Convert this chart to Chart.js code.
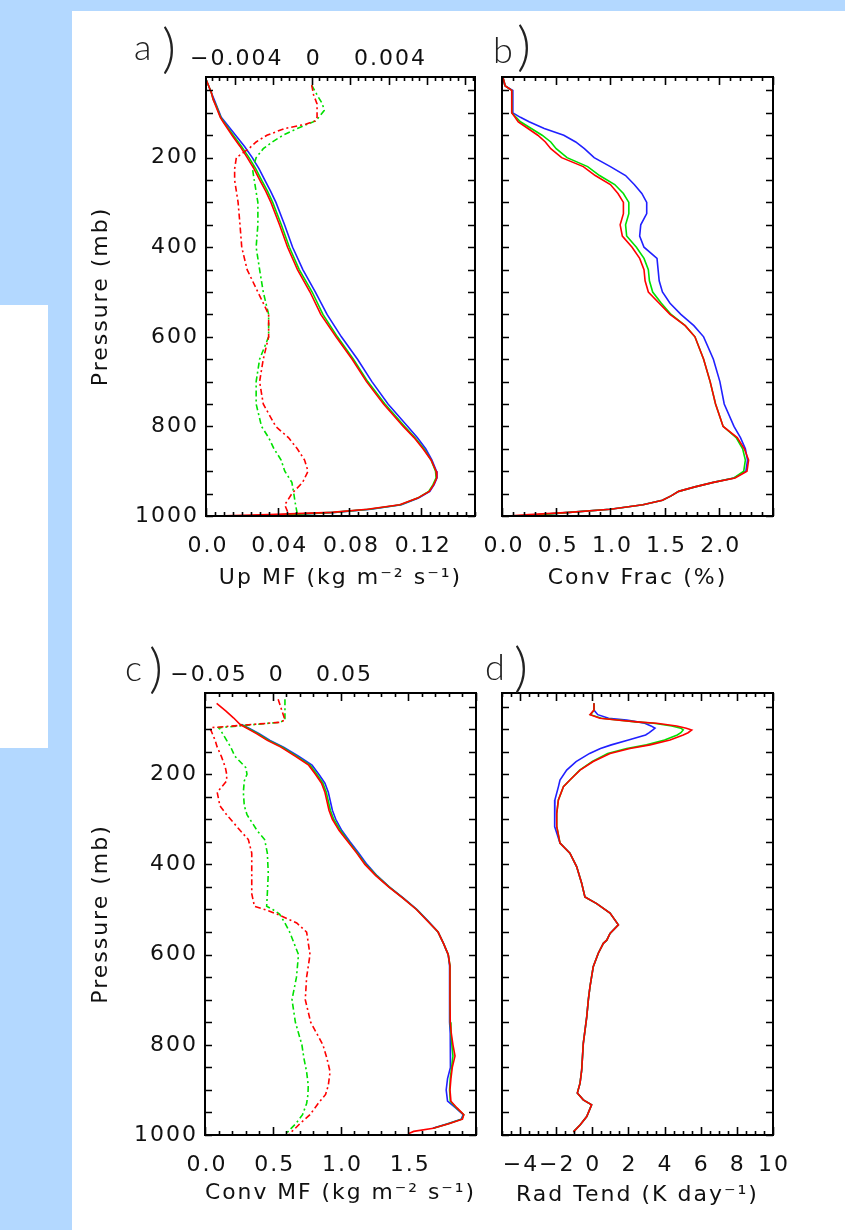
<!DOCTYPE html>
<html><head><meta charset="utf-8">
<script src="https://cdn.jsdelivr.net/npm/chart.js@4.4.1/dist/chart.umd.min.js"></script>
<style>
html,body{margin:0;padding:0;}
body{width:845px;height:1230px;background:#b3d8ff;position:relative;overflow:hidden;}
#white{position:absolute;left:72px;top:11px;width:773px;height:1219px;background:#fff;}
#side{position:absolute;left:0;top:305px;width:48px;height:443px;background:#fff;}
canvas{position:absolute;}
</style></head>
<body>
<div id="white"></div><div id="side"></div>
<canvas id="ca" width="420" height="600" style="left:80px;top:20px"></canvas>
<canvas id="cb" width="360" height="600" style="left:470px;top:20px"></canvas>
<canvas id="cc" width="420" height="594" style="left:80px;top:636px"></canvas>
<canvas id="cd" width="360" height="594" style="left:470px;top:636px"></canvas>
<script>
// ---------------- DATA ----------------
// Panel a: updraft mass flux (solid, bottom axis) and its difference (dash-dot, top axis)
const pA = [25, 40, 55, 70, 85, 100, 110, 120, 135, 150, 175, 200, 225, 250, 275, 300, 350, 400, 450, 500, 550, 600, 650, 700, 750, 800, 825, 850, 875, 900, 915, 930, 945, 960, 975, 985, 992, 997, 1000];
const upMFBlue  = [0.0, 0.0015, 0.003, 0.0045, 0.006, 0.0075, 0.0085, 0.0105, 0.0135, 0.0165, 0.0215, 0.0258, 0.0296, 0.0328, 0.036, 0.039, 0.0438, 0.0483, 0.054, 0.061, 0.0675, 0.0755, 0.0845, 0.0925, 0.1015, 0.1125, 0.1178, 0.1225, 0.126, 0.1285, 0.1288, 0.1272, 0.1248, 0.1185, 0.109, 0.092, 0.072, 0.045, 0.022];
const upMFGreen = [0.0, 0.0015, 0.003, 0.004, 0.0058, 0.0072, 0.0082, 0.0098, 0.0125, 0.0152, 0.0198, 0.024, 0.0278, 0.031, 0.0343, 0.0372, 0.042, 0.0465, 0.052, 0.0592, 0.0652, 0.0733, 0.0822, 0.0902, 0.0998, 0.1108, 0.1165, 0.1215, 0.1255, 0.128, 0.1283, 0.1266, 0.1242, 0.118, 0.1085, 0.091, 0.071, 0.045, 0.022];
const upMFRed   = [0.0, 0.0015, 0.003, 0.004, 0.0055, 0.007, 0.008, 0.0095, 0.012, 0.0145, 0.019, 0.023, 0.0268, 0.030, 0.0333, 0.0362, 0.041, 0.0455, 0.051, 0.058, 0.064, 0.0725, 0.0815, 0.0895, 0.099, 0.110, 0.116, 0.121, 0.1255, 0.1283, 0.1287, 0.127, 0.1245, 0.118, 0.108, 0.090, 0.070, 0.035, 0.005];
const pAd = [38, 60, 80, 95, 110, 118, 125, 135, 150, 165, 180, 200, 225, 250, 300, 350, 400, 450, 500, 550, 600, 650, 700, 750, 800, 825, 850, 875, 900, 925, 950, 975, 995];
const upMFDiffGreen = [0, 0.00028, 0.00056, 0.00065, 0.00037, 0.00019, -0.00019, -0.00075, -0.00149, -0.00205, -0.00252, -0.00289, -0.00308, -0.00299, -0.0028, -0.0028, -0.00289, -0.00271, -0.00252, -0.00224, -0.00224, -0.00271, -0.00289, -0.00289, -0.00261, -0.00224, -0.00196, -0.00159, -0.0014, -0.00103, -0.00093, -0.00084, -0.00075];
const upMFDiffRed   = [0, 0.0001, 0.00028, 0.00028, 0.00028, 0.00019, -0.00028, -0.0014, -0.00233, -0.00289, -0.00327, -0.00392, -0.00401, -0.00401, -0.00383, -0.00373, -0.00364, -0.00336, -0.0028, -0.00224, -0.00224, -0.00252, -0.00271, -0.00252, -0.00187, -0.00121, -0.00075, -0.00037, -0.00019, -0.00047, -0.00103, -0.0014, -0.00121];

// Panel b: convective fraction (%)
const pB = [22, 40, 50, 75, 100, 110, 120, 135, 150, 165, 180, 200, 220, 240, 260, 280, 300, 325, 350, 375, 400, 425, 450, 475, 500, 525, 550, 575, 600, 650, 700, 750, 800, 825, 850, 875, 900, 915, 925, 935, 945, 955, 965, 975, 985, 992, 997, 1000];
const convFracBlue  = [0.01, 0.03, 0.10, 0.10, 0.10, 0.17, 0.25, 0.39, 0.57, 0.68, 0.76, 0.85, 1.0, 1.14, 1.22, 1.29, 1.335, 1.335, 1.28, 1.27, 1.31, 1.43, 1.44, 1.45, 1.48, 1.55, 1.65, 1.77, 1.86, 1.95, 2.01, 2.05, 2.14, 2.20, 2.245, 2.265, 2.25, 2.14, 1.95, 1.78, 1.63, 1.56, 1.48, 1.30, 1.00, 0.62, 0.35, 0.2];
const convFracGreen = [0.01, 0.03, 0.09, 0.09, 0.09, 0.13, 0.17, 0.27, 0.37, 0.45, 0.50, 0.60, 0.79, 0.90, 1.04, 1.12, 1.17, 1.17, 1.14, 1.15, 1.24, 1.31, 1.35, 1.36, 1.39, 1.47, 1.56, 1.69, 1.78, 1.86, 1.92, 1.97, 2.04, 2.16, 2.22, 2.245, 2.23, 2.14, 1.95, 1.78, 1.63, 1.56, 1.48, 1.30, 1.00, 0.62, 0.35, 0.2];
const convFracRed   = [0.01, 0.03, 0.09, 0.09, 0.09, 0.12, 0.15, 0.24, 0.33, 0.40, 0.45, 0.55, 0.75, 0.86, 1.0, 1.07, 1.12, 1.12, 1.09, 1.11, 1.20, 1.27, 1.31, 1.32, 1.35, 1.45, 1.55, 1.69, 1.78, 1.86, 1.92, 1.97, 2.04, 2.17, 2.235, 2.275, 2.26, 2.15, 1.95, 1.78, 1.63, 1.56, 1.48, 1.30, 1.00, 0.62, 0.25, 0.05];

// Panel c: convective mass flux (solid, bottom axis) and difference (dash-dot, top axis)
const pC = [43, 60, 75, 90, 100, 110, 125, 140, 160, 180, 200, 220, 240, 260, 280, 300, 325, 350, 375, 400, 425, 450, 475, 500, 525, 550, 575, 600, 625, 650, 700, 750, 775, 800, 825, 850, 875, 900, 925, 940, 955, 965, 975, 985, 992, 997];
const convMFBlue  = [null, null, null, 0.27, 0.335, 0.40, 0.48, 0.58, 0.69, 0.79, 0.84, 0.885, 0.91, 0.925, 0.94, 0.965, 1.01, 1.07, 1.135, 1.195, 1.27, 1.36, 1.465, 1.565, 1.645, 1.72, 1.76, 1.795, 1.805, 1.805, 1.805, 1.805, 1.81, 1.812, 1.812, 1.81, 1.79, 1.78, 1.79, 1.85, 1.905, 1.89, 1.79, 1.68, null, null];
const convMFGreen = [null, null, null, 0.265, 0.33, 0.39, 0.47, 0.57, 0.675, 0.775, 0.825, 0.87, 0.895, 0.91, 0.925, 0.95, 1.0, 1.06, 1.125, 1.185, 1.265, 1.358, 1.462, 1.562, 1.642, 1.72, 1.76, 1.795, 1.808, 1.808, 1.808, 1.81, 1.815, 1.822, 1.83, 1.82, 1.81, 1.805, 1.81, 1.855, 1.91, 1.895, 1.795, 1.685, null, null];
const convMFRed   = [0.086, 0.155, 0.21, 0.26, 0.32, 0.38, 0.46, 0.56, 0.665, 0.765, 0.815, 0.86, 0.885, 0.90, 0.915, 0.94, 0.99, 1.055, 1.12, 1.18, 1.26, 1.355, 1.46, 1.56, 1.64, 1.72, 1.76, 1.795, 1.808, 1.808, 1.808, 1.81, 1.818, 1.83, 1.845, 1.825, 1.815, 1.808, 1.815, 1.86, 1.91, 1.90, 1.80, 1.685, 1.54, 1.50];
const pCd = [34, 80, 85, 97, 100, 125, 140, 160, 185, 200, 215, 240, 270, 290, 325, 345, 375, 420, 465, 493, 500, 510, 530, 550, 600, 650, 700, 750, 800, 830, 860, 890, 910, 930, 955, 975, 990, 997];
const convMFDiffGreen = [0.009, 0.009, 0.005, -0.040, -0.039, -0.034, -0.031, -0.028, -0.020, -0.019, -0.021, -0.0217, -0.021, -0.019, -0.0115, -0.006, -0.004, -0.0033, -0.004, -0.0045, 0.0, 0.005, 0.009, 0.0125, 0.019, 0.0175, 0.0142, 0.0167, 0.0215, 0.023, 0.025, 0.0262, 0.026, 0.025, 0.022, 0.017, 0.012, 0.010];
const convMFDiffRed   = [0.004, 0.009, 0.005, -0.046, -0.046, -0.0425, -0.041, -0.038, -0.035, -0.034, -0.034, -0.041, -0.039, -0.034, -0.024, -0.018, -0.0155, -0.0155, -0.0155, -0.0135, -0.006, 0.003, 0.0177, 0.025, 0.0275, 0.025, 0.024, 0.028, 0.037, 0.040, 0.0423, 0.041, 0.039, 0.0335, 0.0275, 0.020, 0.015, 0.012];

// Panel d: radiative tendency (K/day)
const pD = [43, 58, 68, 76, 80, 84, 87, 93, 98, 102, 108, 113, 124, 135, 143, 154, 172, 191, 213, 228, 257, 287, 316, 353, 375, 405, 442, 472, 487, 508, 534, 553, 568, 575, 597, 627, 671, 700, 738, 797, 856, 885, 907, 922, 933, 959, 978, 993];
const radBlue  = [0.09, 0.09, 0.3, 0.9, 1.9, 2.5, 2.9, 3.25, 3.47, 3.35, 3.15, 2.95, 2.0, 1.05, 0.45, -0.15, -0.9, -1.42, -1.79, -1.88, -2.07, -2.1, -2.07, -1.79, -1.24, -0.87, -0.59, -0.41, 0.24, 0.98, 1.44, 0.98, 0.80, 0.61, 0.33, 0.05, -0.13, -0.22, -0.31, -0.5, -0.59, -0.68, -0.83, -0.5, -0.04, -0.31, -0.68, -1.05];
const radGreen = [0.09, 0.09, -0.1, 0.5, 1.4, 2.4, 3.4, 4.4, 4.9, 5.03, 4.9, 4.7, 4.0, 3.0, 1.9, 0.85, 0.0, -0.7, -1.24, -1.6, -1.88, -1.97, -1.97, -1.79, -1.24, -0.87, -0.59, -0.41, 0.24, 0.98, 1.44, 0.98, 0.80, 0.61, 0.33, 0.05, -0.13, -0.22, -0.31, -0.5, -0.59, -0.68, -0.83, -0.5, -0.04, -0.31, -0.68, -1.05];
const radRed   = [0.09, 0.09, -0.13, 0.42, 1.35, 2.46, 3.56, 4.67, 5.2, 5.5, 5.3, 5.03, 4.3, 3.19, 2.08, 0.98, 0.05, -0.68, -1.24, -1.6, -1.88, -1.97, -1.97, -1.79, -1.24, -0.87, -0.59, -0.41, 0.24, 0.98, 1.44, 0.98, 0.80, 0.61, 0.33, 0.05, -0.13, -0.22, -0.31, -0.5, -0.59, -0.68, -0.83, -0.5, -0.04, -0.31, -0.68, -1.05];

// Tick labels
const pressureTickVals = [200, 400, 600, 800, 1000];
const pressureTickLabels = ['200', '400', '600', '800', '1000'];
const aXTickVals = [0, 0.04, 0.08, 0.12];
const aXTickLabels = ['0.0', '0.04', '0.08', '0.12'];
const aTopTickVals = [-0.004, 0, 0.004];
const aTopTickLabels = ['\u22120.004', '0', '0.004'];
const bXTickVals = [0, 0.5, 1.0, 1.5, 2.0];
const bXTickLabels = ['0.0', '0.5', '1.0', '1.5', '2.0'];
const cXTickVals = [0, 0.5, 1.0, 1.5];
const cXTickLabels = ['0.0', '0.5', '1.0', '1.5'];
const cTopTickVals = [-0.05, 0, 0.05];
const cTopTickLabels = ['\u22120.05', '0', '0.05'];
const dXTickVals = [-4, -2, 0, 2, 4, 6, 8, 10];
const dXTickLabels = ['\u22124', '\u22122', '0', '2', '4', '6', '8', '10'];
const panelLetters = ['a', 'b', 'c', 'd'];
const axisTitles = {
  pressure: 'Pressure (mb)',
  a: 'Up MF (kg m\u207B\u00B2 s\u207B\u00B9)',
  b: 'Conv Frac (%)',
  c: 'Conv MF (kg m\u207B\u00B2 s\u207B\u00B9)',
  d: 'Rad Tend (K day\u207B\u00B9)'
};

// ---------------- HELPERS ----------------
const FAM = "'DejaVu Sans', sans-serif";
const FONT = {family: FAM, size: 22};
const LABEL_FAM = "Lato, 'DejaVu Sans', sans-serif";
const BLUE = '#2020ff', GREEN = '#00e000', RED = '#ff0000';

function tickRange(start, end, step) {
  const out = []; const n = Math.round((end - start) / step);
  for (let i = 0; i <= n; i++) out.push(+(start + i * step).toFixed(10));
  return out;
}
function idx(list, v, tol) { return list.findIndex(m => Math.abs(m - v) < tol); }
function pts(p, vals) { return p.map((y, i) => ({x: vals[i], y: y})); }

function axis(o) {
  const tol = (o.max - o.min) * 1e-6;
  return {
    type: 'linear', position: o.position, min: o.min, max: o.max, reverse: !!o.reverse,
    grid: {display: false, drawTicks: false, drawOnChartArea: false},
    border: {display: false},
    afterBuildTicks: s => { s.ticks = o.ticks.map(v => ({value: v})); },
    afterFit: s => {
      if (s.isHorizontal()) s.height = o.size; else s.width = o.size;
      s.paddingLeft = 0; s.paddingRight = 0; s.paddingTop = 0; s.paddingBottom = 0;
    },
    ticks: {
      autoSkip: false, maxRotation: 0, minRotation: 0, padding: o.padding || 0,
      labelOffset: o.labelOffset || 0,
      color: '#111', font: FONT,
      callback: v => { if (!o.labelVals) return ''; const i = idx(o.labelVals, v, tol); return i >= 0 ? o.labels[i] : ''; }
    },
    title: o.title ? {display: true, text: o.title, color: '#111', font: FONT, padding: o.titlePad} : {display: false}
  };
}

const META = {};
const idlFrame = {
  id: 'idlFrame',
  beforeDraw(chart) { chart.ctx.letterSpacing = '2px'; },
  afterDraw(chart) {
    const m = META[chart.canvas.id]; if (!m) return;
    const ctx = chart.ctx, a = chart.chartArea;
    const sx = chart.scales.x, sx2 = chart.scales.x2, sy = chart.scales.y;
    ctx.save();
    ctx.letterSpacing = '0px';
    ctx.strokeStyle = '#000';
    ctx.lineWidth = 1.6;
    ctx.beginPath();
    const isMaj = (list, v, s) => idx(list, v, (s.max - s.min) * 1e-6) >= 0;
    sx.ticks.forEach(t => {
      const px = Math.round(sx.getPixelForValue(t.value)) + 0.5;
      const L = isMaj(m.xMaj, t.value, sx) ? 8 : 4;
      ctx.moveTo(px, a.bottom); ctx.lineTo(px, a.bottom - L);
    });
    sx2.ticks.forEach(t => {
      const px = Math.round(sx2.getPixelForValue(t.value)) + 0.5;
      const L = isMaj(m.x2Maj, t.value, sx2) ? 8 : 4;
      ctx.moveTo(px, a.top); ctx.lineTo(px, a.top + L);
    });
    sy.ticks.forEach(t => {
      const py = Math.round(sy.getPixelForValue(t.value)) + 0.5;
      ctx.moveTo(a.left, py); ctx.lineTo(a.left + 7, py);
      ctx.moveTo(a.right, py); ctx.lineTo(a.right - 7, py);
    });
    ctx.stroke();
    ctx.lineWidth = 2;
    ctx.strokeRect(a.left, a.top, a.right - a.left, a.bottom - a.top);
    // panel letter
    ctx.fillStyle = '#222';
    ctx.textAlign = 'left'; ctx.textBaseline = 'alphabetic';
    ctx.font = '300 36px ' + LABEL_FAM;
    ctx.fillText(m.letter, m.lx - m.ox, m.ly - m.oy);
    ctx.font = '300 54px ' + LABEL_FAM;
    ctx.fillText(')', m.px - m.ox, m.py - m.oy);
    ctx.restore();
  }
};

function ds(data, color, axisId, dashed, order) {
  return {data: data, borderColor: color, backgroundColor: color, borderWidth: 1.6,
    borderDash: dashed ? [6, 3, 2, 3] : [], showLine: true, pointRadius: 0, tension: 0, fill: false,
    xAxisID: axisId, yAxisID: 'y', order: order, spanGaps: false};
}

function makeChart(id, o) {
  META[id] = o.meta;
  return new Chart(document.getElementById(id), {
    type: 'scatter',
    data: {datasets: o.datasets},
    options: {
      responsive: false, animation: false, events: [],
      layout: {padding: {left: 0, right: o.padRight, top: 0, bottom: 0}},
      plugins: {legend: {display: false}, tooltip: {enabled: false}},
      scales: {x: axis(o.x), x2: axis(o.x2), y: axis(o.y)}
    },
    plugins: [idlFrame]
  });
}

const yTicks = tickRange(50, 1000, 50);

// Panel a
makeChart('ca', {
  padRight: 25,
  meta: {ox: 80, oy: 20, letter: panelLetters[0], lx: 134, ly: 60, px: 162, py: 67, xMaj: aXTickVals, x2Maj: tickRange(-0.004, 0.008, 0.002)},
  x: {position: 'bottom', min: 0, max: 0.15, ticks: tickRange(0, 0.15, 0.005), labelVals: aXTickVals, labels: aXTickLabels, size: 104, padding: 17, labelOffset: 2, title: axisTitles.a, titlePad: {top: 0, bottom: 29}},
  x2: {position: 'top', min: -0.0055, max: 0.0085, ticks: tickRange(-0.0052, 0.0084, 0.0004), labelVals: aTopTickVals, labels: aTopTickLabels, size: 57, padding: 5, labelOffset: 2},
  y: {position: 'left', min: 20, max: 1000, reverse: true, ticks: yTicks, labelVals: pressureTickVals, labels: pressureTickLabels, size: 126, padding: 7, title: axisTitles.pressure, titlePad: {top: 8, bottom: 0}},
  datasets: [
    ds(pts(pA, upMFRed), RED, 'x', false, 1),
    ds(pts(pAd, upMFDiffRed), RED, 'x2', true, 2),
    ds(pts(pA, upMFGreen), GREEN, 'x', false, 3),
    ds(pts(pAd, upMFDiffGreen), GREEN, 'x2', true, 4),
    ds(pts(pA, upMFBlue), BLUE, 'x', false, 5)
  ]
});

// Panel b
makeChart('cb', {
  padRight: 57,
  meta: {ox: 470, oy: 20, letter: panelLetters[1], lx: 493, ly: 63, px: 517, py: 65, xMaj: tickRange(0, 2.5, 0.5), x2Maj: tickRange(0, 2.5, 0.5)},
  x: {position: 'bottom', min: 0, max: 2.5, ticks: tickRange(0, 2.5, 0.1), labelVals: bXTickVals, labels: bXTickLabels, size: 104, padding: 17, labelOffset: 2, title: axisTitles.b, titlePad: {top: 0, bottom: 29}},
  x2: {position: 'top', min: 0, max: 2.5, ticks: tickRange(0, 2.5, 0.1), size: 57},
  y: {position: 'left', min: 20, max: 1000, reverse: true, ticks: yTicks, size: 32},
  datasets: [
    ds(pts(pB, convFracRed), RED, 'x', false, 1),
    ds(pts(pB, convFracGreen), GREEN, 'x', false, 2),
    ds(pts(pB, convFracBlue), BLUE, 'x', false, 3)
  ]
});

// Panel c
makeChart('cc', {
  padRight: 24,
  meta: {ox: 80, oy: 636, letter: panelLetters[2], lx: 125, ly: 681, px: 149, py: 687, xMaj: tickRange(0, 2.0, 0.5), x2Maj: tickRange(-0.05, 0.15, 0.05)},
  x: {position: 'bottom', min: 0, max: 2.0, ticks: tickRange(0, 2.0, 0.1), labelVals: cXTickVals, labels: cXTickLabels, size: 95, padding: 17, labelOffset: 2, title: axisTitles.c, titlePad: {top: 0, bottom: 24}},
  x2: {position: 'top', min: -0.05, max: 0.15, ticks: tickRange(-0.05, 0.15, 0.01), labelVals: cTopTickVals, labels: cTopTickLabels, size: 57, padding: 5, labelOffset: 4},
  y: {position: 'left', min: 20, max: 1000, reverse: true, ticks: yTicks, labelVals: pressureTickVals, labels: pressureTickLabels, size: 125, padding: 7, title: axisTitles.pressure, titlePad: {top: 8, bottom: 0}},
  datasets: [
    ds(pts(pC, convMFRed), RED, 'x', false, 1),
    ds(pts(pCd, convMFDiffRed), RED, 'x2', true, 2),
    ds(pts(pC, convMFGreen), GREEN, 'x', false, 3),
    ds(pts(pCd, convMFDiffGreen), GREEN, 'x2', true, 4),
    ds(pts(pC, convMFBlue), BLUE, 'x', false, 5)
  ]
});

// Panel d
makeChart('cd', {
  padRight: 57,
  meta: {ox: 470, oy: 636, letter: panelLetters[3], lx: 485, ly: 680, px: 514, py: 686, xMaj: tickRange(-4, 10, 2), x2Maj: tickRange(-4, 10, 2)},
  x: {position: 'bottom', min: -5, max: 10, ticks: tickRange(-5, 10, 0.5), labelVals: dXTickVals, labels: dXTickLabels, size: 95, padding: 17, labelOffset: 1, title: axisTitles.d, titlePad: {top: 0, bottom: 22}},
  x2: {position: 'top', min: -5, max: 10, ticks: tickRange(-5, 10, 0.5), size: 57},
  y: {position: 'left', min: 20, max: 1000, reverse: true, ticks: yTicks, size: 32},
  datasets: [
    ds(pts(pD, radRed), RED, 'x', false, 1),
    ds(pts(pD, radGreen), GREEN, 'x', false, 2),
    ds(pts(pD, radBlue), BLUE, 'x', false, 3)
  ]
});
</script>
</body></html>
